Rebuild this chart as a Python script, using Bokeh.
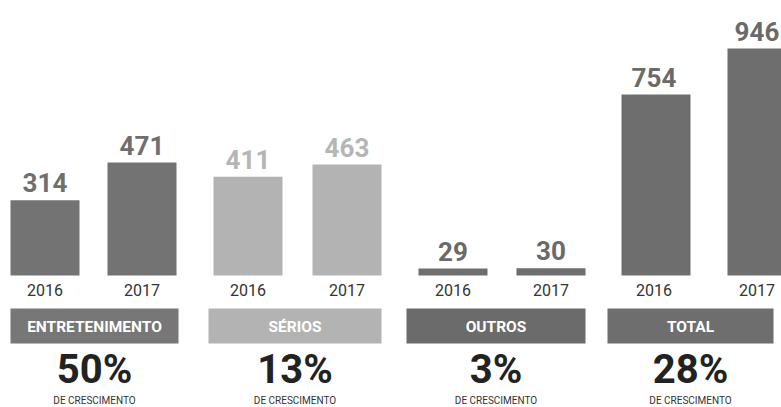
from bokeh.plotting import figure
from bokeh.models import ColumnDataSource, Range1d
from bokeh.core.properties import value
from bokeh.embed import file_html
from bokeh.resources import INLINE

# ---- data ----
categories = ["ENTRETENIMENTO", "SÉRIOS", "OUTROS", "TOTAL"]
years = ["2016", "2017"]
values_2016 = [314, 411, 29, 754]
values_2017 = [471, 463, 30, 946]
growth = ["50%", "13%", "3%", "28%"]
growth_caption = "DE CRESCIMENTO"

# ---- layout / style ----
W, H = 781, 407
BASE_PX = 275          # pixel row of the zero line
S = 0.24               # pixels per unit
BAR_X = [44.5, 141.5, 247.5, 346.5, 452.5, 550.5, 655.5, 761.5]
LABEL_DX = [0, 0, 0, 0, 0, 0, -2, -5]
BAR_W = 69
BOX_L = [10, 208, 406, 607]
BOX_R = [178, 381, 585, 773]
BAR_COL = ["#737373", "#b3b3b3", "#6e6e6e", "#6e6e6e"]
VAL_COL = ["#6f6f6f", "#b5b5b5", "#6a6a6a", "#6a6a6a"]
BOX_COL = ["#777777", "#b3b3b3", "#6b6b6b", "#6e6e6e"]
FONT = value("Roboto")
SHIFT = 0.36           # baseline correction, fraction of font size


def v(py):
    """pixel row -> data value"""
    return (BASE_PX - py) / S


p = figure(width=W, height=H, output_backend="svg", toolbar_location=None,
           x_axis_type=None, y_axis_type=None,
           x_range=Range1d(0, W), y_range=Range1d(v(H), v(0)),
           min_border=0, min_border_left=0, min_border_right=0,
           min_border_top=0, min_border_bottom=0)
p.grid.visible = False
p.outline_line_color = None
p.background_fill_color = "white"
p.border_fill_color = "white"

# bars
xs, lxs, tops, cols, vcols, labels, yl = [], [], [], [], [], [], []
for g in range(len(categories)):
    for k, vals in enumerate([values_2016, values_2017]):
        i = 2 * g + k
        xs.append(BAR_X[i])
        lxs.append(BAR_X[i] + LABEL_DX[i])
        tops.append(vals[g])
        cols.append(BAR_COL[g])
        vcols.append(VAL_COL[g])
        labels.append(str(vals[g]))
        yl.append(years[k])
src = ColumnDataSource(dict(x=xs, lx=lxs, top=tops, color=cols, vcolor=vcols,
                            label=labels, year=yl, zero=[0] * len(xs)))
p.vbar(x="x", top="top", bottom=0, width=BAR_W, fill_color="color",
       line_color=None, source=src)
p.text(x="lx", y="top", text="label", source=src, text_align="center",
       text_baseline="alphabetic", y_offset=-8 - SHIFT * 26, text_color="vcolor",
       text_font=FONT, text_font_style="bold", text_font_size="26px")
p.text(x="lx", y="zero", text="year", source=src, text_align="center",
       text_baseline="alphabetic", y_offset=20 - SHIFT * 16, text_color="#333333",
       text_font=FONT, text_font_size="16px")

# category boxes and growth texts
cx = [(l + r) / 2 for l, r in zip(BOX_L, BOX_R)]
bsrc = ColumnDataSource(dict(left=BOX_L, right=BOX_R, color=BOX_COL, cx=cx,
                             cat=categories, growth=growth,
                             cap=[growth_caption] * len(categories)))
p.quad(left="left", right="right", top=v(308), bottom=v(343),
       fill_color="color", line_color=None, source=bsrc)
p.text(x="cx", y=v(332 - SHIFT * 15.5), text="cat", source=bsrc, text_align="center",
       text_baseline="alphabetic", text_color="white", text_font=FONT,
       text_font_style="bold", text_font_size="15.5px")
p.text(x="cx", y=v(383 - SHIFT * 40), text="growth", source=bsrc, text_align="center",
       text_baseline="alphabetic", text_color="#222222", text_font=FONT,
       text_font_style="bold", text_font_size="40px")
p.text(x="cx", y=v(404 - SHIFT * 10), text="cap", source=bsrc, text_align="center",
       text_baseline="alphabetic", text_color="#333333", text_font=FONT,
       text_font_size="10px")

open("out.html", "w").write(file_html(p, INLINE))
